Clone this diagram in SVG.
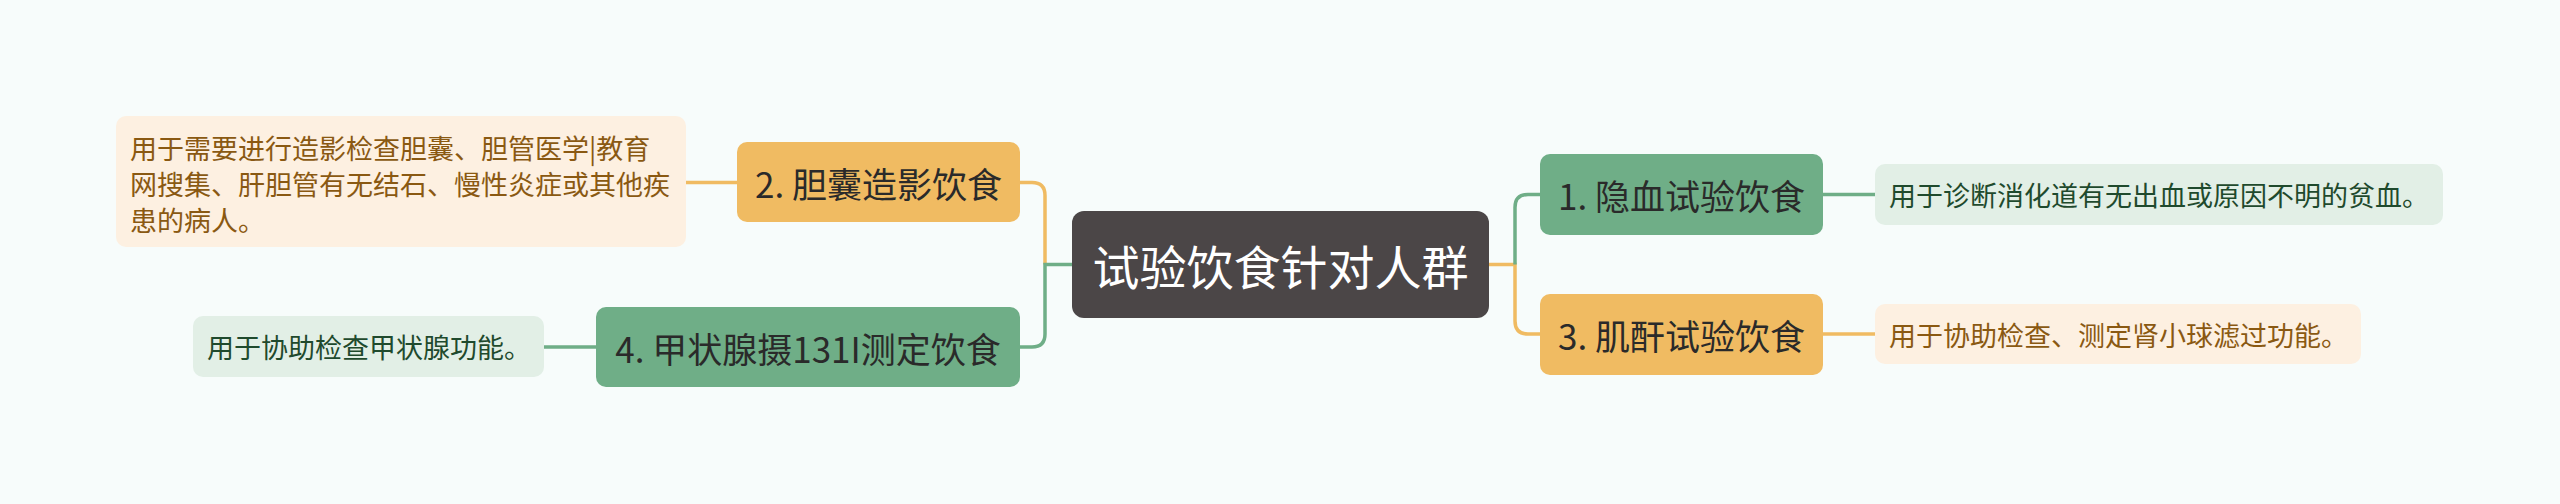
<svg xmlns="http://www.w3.org/2000/svg" width="2560" height="504" viewBox="0 0 2560 504">
<style>
text{font-family:"Noto Sans CJK SC","Noto Sans",sans-serif;dominant-baseline:central}
.root rect{fill:#4b4647}
.root text{fill:#ffffff;font-size:47px;text-anchor:middle}
.g rect{fill:#6fae87}
.o rect{fill:#f0bb62}
.g text,.o text{fill:#2a2a2a;font-size:35px;text-anchor:middle}
.lg rect{fill:#e2efe6}
.lo rect{fill:#fdf0e1}
.lg text{fill:#1f4a2d;font-size:27px}
.lo text{fill:#8a5912;font-size:27px}
.c path{fill:none;stroke-width:3.5}
.cg{stroke:#6fae87}
.co{stroke:#f0bb62}
</style>
<rect width="2560" height="504" fill="#f7fcfb"/>
<g class="c" id="connectors">
<path class="co" d="M1020,182.5 H1032 Q1045,182.5 1045,195.5 V264.5"/>
<path class="cg" d="M1072,264.5 H1045 V334 Q1045,347 1032,347 H1020"/>
<path class="co" d="M686,182.5 H737"/>
<path class="cg" d="M544,347 H596"/>
<path class="co" d="M1489,264.5 H1515 V321 Q1515,334 1528,334 H1540"/>
<path class="cg" d="M1515,264.5 V207.5 Q1515,194.5 1528,194.5 H1540"/>
<path class="cg" d="M1823,194.5 H1875"/>
<path class="co" d="M1823,334 H1875"/>
</g>
<g id="root" class="root">
<rect x="1072" y="211" width="417" height="107" rx="12"/>
<text x="1280.5" y="264.5">试验饮食针对人群</text>
</g>
<g id="n2" class="o">
<rect x="737" y="142" width="283" height="80" rx="10"/>
<text x="878.5" y="182">2. 胆囊造影饮食</text>
</g>
<g id="n4" class="g">
<rect x="596" y="307" width="424" height="80" rx="10"/>
<text x="808" y="347">4. 甲状腺摄131I测定饮食</text>
</g>
<g id="n1" class="g">
<rect x="1540" y="154" width="283" height="81" rx="10"/>
<text x="1681.5" y="194.5">1. 隐血试验饮食</text>
</g>
<g id="n3" class="o">
<rect x="1540" y="294" width="283" height="81" rx="10"/>
<text x="1681.5" y="334.5">3. 肌酐试验饮食</text>
</g>
<g id="l2" class="lo">
<rect x="116" y="116" width="570" height="131" rx="10"/>
<text x="130" y="147">用于需要进行造影检查胆囊、胆管医学|教育</text>
<text x="130" y="183">网搜集、肝胆管有无结石、慢性炎症或其他疾</text>
<text x="130" y="219">患的病人。</text>
</g>
<g id="l4" class="lg">
<rect x="193" y="316" width="351" height="61" rx="10"/>
<text x="207" y="346.5">用于协助检查甲状腺功能。</text>
</g>
<g id="l1" class="lg">
<rect x="1875" y="164" width="568" height="61" rx="10"/>
<text x="1889" y="194.5">用于诊断消化道有无出血或原因不明的贫血。</text>
</g>
<g id="l3" class="lo">
<rect x="1875" y="304" width="486" height="60" rx="10"/>
<text x="1889" y="334">用于协助检查、测定肾小球滤过功能。</text>
</g>
</svg>
